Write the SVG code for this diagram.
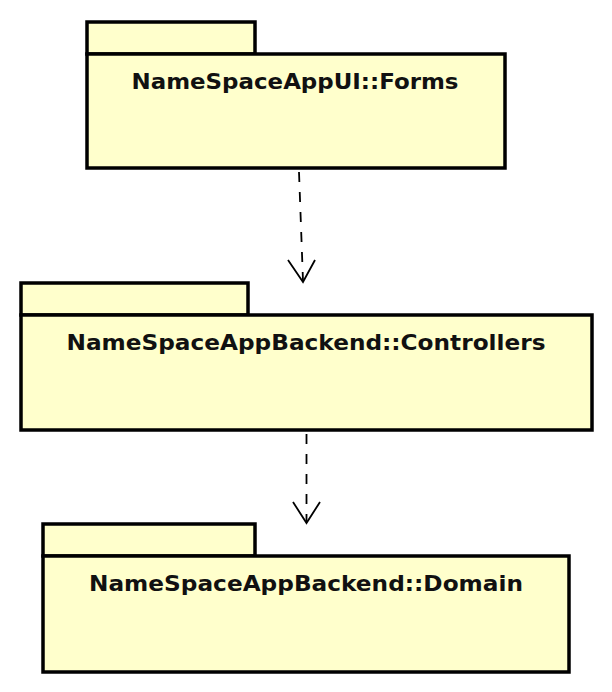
<svg xmlns="http://www.w3.org/2000/svg" width="612" height="692" viewBox="0 0 612 692">
<style>
.pkg{fill:#FFFFCC;stroke:#000;stroke-width:3.5}
.lbl{font-family:"DejaVu Sans",sans-serif;font-weight:bold;font-size:22px;fill:#111;text-anchor:middle}
.dep{fill:none;stroke:#000;stroke-width:1.8;stroke-dasharray:10,10}
.head{fill:none;stroke:#000;stroke-width:1.8}
</style>
<rect width="612" height="692" fill="#fff"/>
<g id="forms">
<rect class="pkg" x="87" y="22" width="168" height="32"/>
<rect class="pkg" x="87" y="54" width="418" height="114"/>
<text class="lbl" x="295" y="89" textLength="327" lengthAdjust="spacingAndGlyphs">NameSpaceAppUI::Forms</text>
</g>
<g id="controllers">
<rect class="pkg" x="21" y="283" width="227" height="32"/>
<rect class="pkg" x="21" y="315" width="571" height="115"/>
<text class="lbl" x="306" y="350" textLength="479" lengthAdjust="spacingAndGlyphs">NameSpaceAppBackend::Controllers</text>
</g>
<g id="domain">
<rect class="pkg" x="43" y="524" width="212" height="32"/>
<rect class="pkg" x="43" y="556" width="526" height="116"/>
<text class="lbl" x="306" y="591" textLength="434" lengthAdjust="spacingAndGlyphs">NameSpaceAppBackend::Domain</text>
</g>
<g id="connectors">
<line class="dep" x1="299" y1="172" x2="303" y2="281"/>
<polyline class="head" points="288,260 303,282 315,260"/>
<line class="dep" x1="306.5" y1="434" x2="306.5" y2="522"/>
<polyline class="head" points="293,502 306.5,523 320,502"/>
</g>
</svg>
